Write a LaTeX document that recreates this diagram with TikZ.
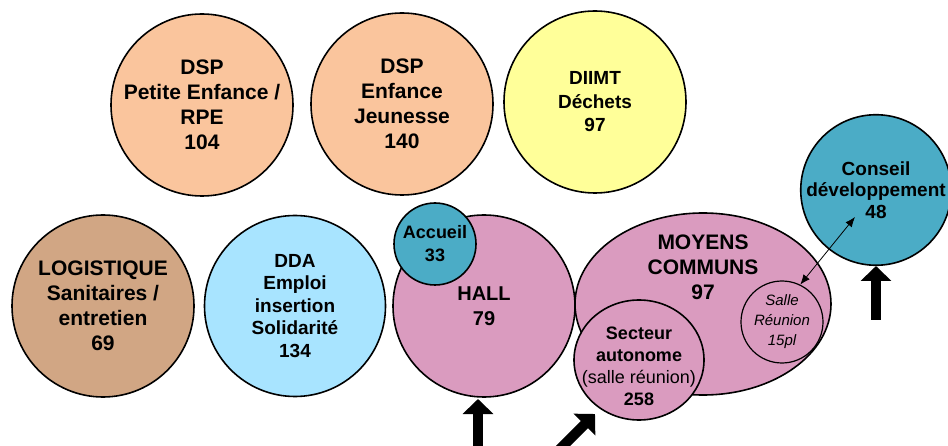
\documentclass[tikz,border=0pt]{standalone}
\usepackage{fontspec}
\setmainfont{Liberation Sans}
\usetikzlibrary{shapes.geometric,arrows.meta}
\definecolor{peach}{HTML}{FAC59D}
\definecolor{lemon}{HTML}{FFFF99}
\definecolor{tan}{HTML}{D1A684}
\definecolor{sky}{HTML}{A8E4FF}
\definecolor{rose}{HTML}{DA9BBF}
\definecolor{teal}{HTML}{4BACC6}
\begin{document}
\begin{tikzpicture}[x=1pt,y=-1pt,
  room/.style={circle, draw=black, line width=1.6pt, inner sep=0pt, align=center,
    font=\bfseries\fontsize{21}{25}\selectfont},
  midtext/.style={font=\bfseries\fontsize{19}{23.5}\selectfont},
  bigarrow/.style={line width=10pt, -{Triangle[length=15pt,width=30pt]}},
  link/.style={line width=0.8pt, {Latex[length=10pt,width=8pt]}-{Latex[length=10pt,width=8pt]}}]
\useasboundingbox (0,0) rectangle (948,446);

% upper row
\node[room, fill=peach, minimum size=182pt] (dspPE) at (202,105) {DSP\\Petite Enfance /\\RPE\\104};
\node[room, fill=peach, minimum size=182pt] (dspEJ) at (402,104) {DSP\\Enfance\\Jeunesse\\140};
\node[room, fill=lemon, minimum size=182pt, midtext] (diimt) at (595,102) {DIIMT\\Déchets\\97};

% lower row
\node[room, fill=tan, minimum size=182pt] (logi) at (103,306) {LOGISTIQUE\\Sanitaires /\\entretien\\69};
\node[room, fill=sky, minimum size=181pt, font=\bfseries\fontsize{19}{22.5}\selectfont] (dda) at (295,306) {DDA\\Emploi\\insertion\\Solidarité\\134};
\node[room, fill=rose, minimum size=182pt, font=\bfseries\fontsize{20}{25}\selectfont] (hall) at (484,306) {HALL\\79};
\node[room, fill=teal, minimum size=82pt, font=\bfseries\fontsize{18}{23}\selectfont] (accueil) at (435,244) {Accueil\\33};

% shared services
\node[ellipse, draw=black, line width=1.6pt, fill=rose, minimum width=256pt, minimum height=182pt] (moyens) at (703,304) {};
\node[align=center, font=\bfseries\fontsize{21}{25}\selectfont] (moyensTxt) at (703,267) {MOYENS\\COMMUNS\\97};
\node[ellipse, draw=black, line width=1.6pt, fill=rose, minimum width=130pt, minimum height=120pt,
  inner sep=0pt] (secteur) at (639,360) {};
\node[align=center, inner sep=0pt, font=\fontsize{18}{22}\selectfont] (secteurTxt) at (639,366)
  {\textbf{Secteur}\\\textbf{autonome}\\(salle réunion)\\\textbf{258}};
\node[circle, draw=black, line width=1.2pt, fill=rose, minimum size=82pt, inner sep=0pt, align=center,
  font=\itshape\fontsize{15}{20}\selectfont] (salle) at (782,322) {Salle\\Réunion\\15pl};

% council
\node[room, fill=teal, minimum size=142pt, font=\bfseries\fontsize{19}{21.5}\selectfont] (conseil) at (876,190) {Conseil\\développement\\48};

% link between meeting room and council
\coordinate (conseilPt) at (855,217);
\draw[link] (salle.64) -- (conseilPt);

% entrance arrows
\coordinate (hallTail) at (478,450);
\coordinate (hallTip) at (478,399);
\draw[bigarrow] (hallTail) -- (hallTip);
\coordinate (secTail) at (552,457);
\coordinate (secTip) at (595,414);
\draw[bigarrow] (secTail) -- (secTip);
\coordinate (conTail) at (876,320);
\coordinate (conTip) at (876,266);
\draw[bigarrow] (conTail) -- (conTip);
\end{tikzpicture}
\end{document}
